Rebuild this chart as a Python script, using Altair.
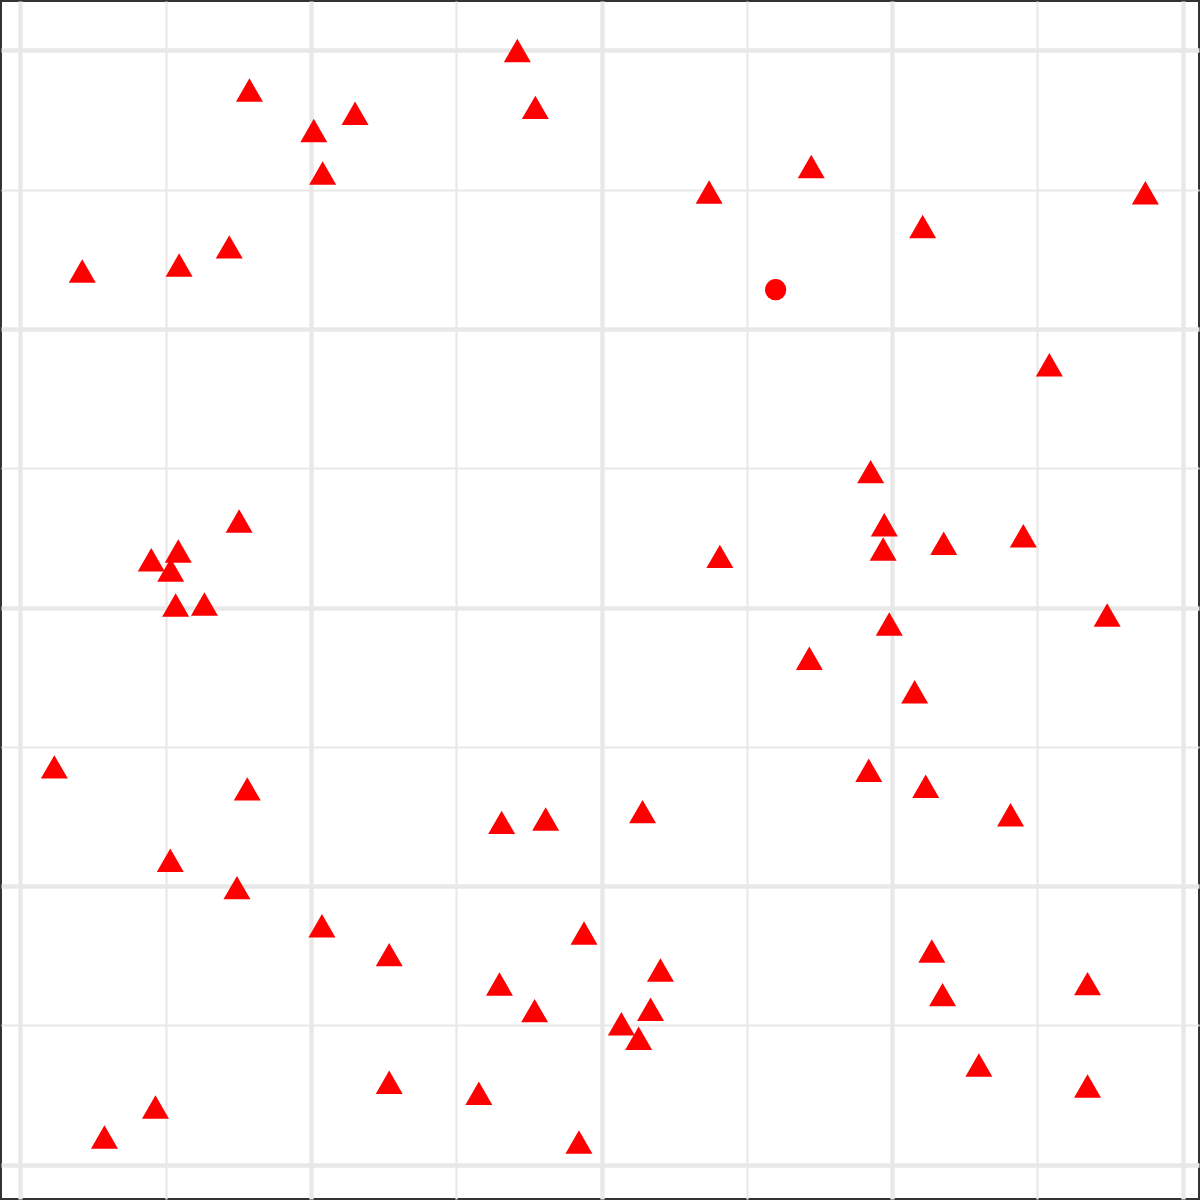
import altair as alt
import pandas as pd

# Point positions in grid units (major gridlines at even values, minor at odd)
x_vals = [3.420, 3.544, 1.576, 2.303, 2.019, 2.080, 1.437, 1.092, 0.425, 5.443,
          4.740, 7.743, 6.210, 5.198, 7.082, 1.505, 1.086, 0.900, 1.034, 1.068,
          1.266, 0.233, 1.561, 5.852, 5.946, 5.938, 6.355, 6.903, 4.814, 7.480,
          5.980, 5.430, 6.155, 5.839, 6.231, 3.312, 3.615, 1.031, 1.490, 2.075,
          2.538, 3.879, 3.297, 3.539, 2.538, 3.155, 0.929, 0.578, 3.844, 4.282,
          6.815, 6.273, 4.405, 6.347, 7.345, 4.337, 4.136, 4.255, 6.597, 7.345]
y_vals = [8.000, 7.592, 7.716, 7.549, 7.426, 7.120, 6.590, 6.460, 6.417, 7.167,
          6.984, 6.979, 6.736, 6.283, 5.744, 4.622, 4.406, 4.344, 4.270, 4.019,
          4.026, 2.856, 2.698, 4.976, 4.595, 4.421, 4.462, 4.516, 4.368, 3.947,
          3.882, 3.636, 3.396, 2.832, 2.717, 2.458, 2.482, 2.186, 1.989, 1.716,
          1.508, 1.664, 1.297, 1.106, 0.592, 0.513, 0.414, 0.199, 0.163, 2.535,
          2.513, 1.534, 1.398, 1.221, 1.300, 1.116, 1.012, 0.908, 0.716, 0.565]
kinds = ["tri"] * 60
kinds[13] = "dot"

x_domain = [-0.1342, 8.1122]
y_domain = [-0.2463, 8.3554]
tick_values = [0, 1, 2, 3, 4, 5, 6, 7, 8]

df = pd.DataFrame({"x": x_vals, "y": y_vals, "kind": kinds})

grid_width = {"condition": {"test": "datum.value % 2 === 0", "value": 4.3}, "value": 2.2}

def make_axis():
    return alt.Axis(
        values=tick_values, labels=False, ticks=False, domain=False, title=None,
        grid=True, gridColor="#E8E8E8", gridWidth=grid_width,
    )

chart = alt.Chart(df).mark_point(filled=True, opacity=1, color="#FF0000").encode(
    x=alt.X("x:Q", scale=alt.Scale(domain=x_domain, nice=False, zero=False), axis=make_axis()),
    y=alt.Y("y:Q", scale=alt.Scale(domain=y_domain, nice=False, zero=False), axis=make_axis()),
    shape=alt.Shape("kind:N", scale=alt.Scale(domain=["tri", "dot"], range=["triangle-up", "circle"]), legend=None),
    size=alt.Size("kind:N", scale=alt.Scale(domain=["tri", "dot"], range=[729, 450]), legend=None),
).properties(
    width=1198, height=1198, padding=1, background="white",
    autosize=alt.AutoSizeParams(type="none"),
).configure_view(
    stroke="#333333", strokeWidth=2, fill="white",
)

chart.save("out.html", embed_options={"renderer": "svg", "actions": False})
